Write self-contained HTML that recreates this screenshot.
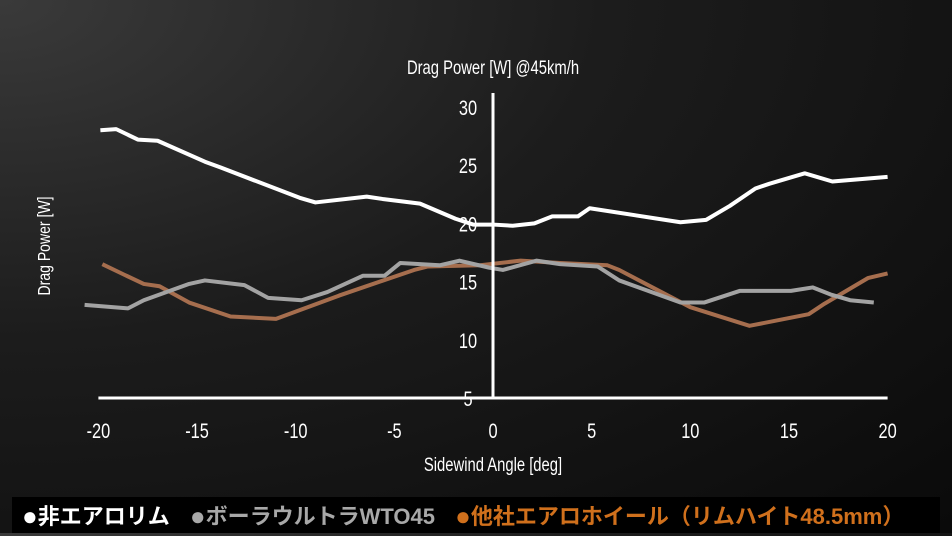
<!DOCTYPE html>
<html><head><meta charset="utf-8"><style>
html,body{margin:0;padding:0}
body{width:952px;height:533px;overflow:hidden;background:radial-gradient(ellipse at 0% 0%,#3a3a3a 0%,#1c1c1c 45%,#0a0a0a 100%);position:relative;font-family:"Liberation Sans",sans-serif}
svg{position:absolute;left:0;top:0}
#legend{position:absolute;left:12px;top:497px;width:928px;height:36px;background:#000;font-family:"Liberation Sans","Noto Sans CJK JP",sans-serif;font-weight:bold;font-size:22px;line-height:38px;white-space:nowrap;letter-spacing:0px}
#legend span{margin-right:14px}
#legend b{font-size:26px;vertical-align:-1px}
</style></head><body>
<svg id="chart" width="952" height="497"></svg>
<div id="legend">
<span style="color:#fff;padding-left:10px"><b>●</b>非エアロリム</span>
<span style="color:#a8a8a8"><b>●</b>ボーラウルトラWTO45</span>
<span style="color:#d0701c"><b>●</b>他社エアロホイール（リムハイト48.5mm）</span>
</div>
<script>
const xTicks=[-20,-15,-10,-5,0,5,10,15,20];
const yTicks=[5,10,15,20,25,30];
const whiteX=[-19.9,-19.1,-18,-17,-14.6,-13.8,-9.8,-9,-6.4,-5.6,-3.7,-1.9,-1,0,1,2.1,3,4.3,4.9,9.5,10.8,12,13.3,14,15.8,17.2,20];
const whiteY=[28,28.1,27.2,27.1,25.3,24.8,22.2,21.8,22.3,22.1,21.7,20.4,19.9,19.9,19.8,20,20.6,20.6,21.3,20.1,20.3,21.5,23,23.4,24.3,23.6,24];
const grayX=[-20.7,-18.5,-17.7,-15.4,-14.6,-12.6,-11.4,-9.7,-8.4,-6.6,-5.5,-4.7,-2.7,-1.7,-0.2,0.5,2.2,3.4,5.3,6.4,9.5,10.7,12.5,15.1,16.2,17.1,18.1,19.3];
const grayY=[13,12.7,13.4,14.8,15.1,14.7,13.6,13.4,14.1,15.5,15.5,16.6,16.4,16.8,16.2,16,16.8,16.5,16.3,15.1,13.2,13.2,14.2,14.2,14.5,13.9,13.4,13.2];
const orangeX=[-19.8,-18.7,-17.7,-16.9,-15.4,-13.3,-11,-7.8,-4,-3.3,-0.7,1.4,3.4,5.8,6.4,10,13,16,16.8,19,20];
const orangeY=[16.5,15.6,14.8,14.6,13.2,12,11.8,13.8,16,16.3,16.4,16.8,16.6,16.4,16,12.8,11.2,12.2,13.1,15.3,15.7];
const NS='http://www.w3.org/2000/svg';
const svg=document.getElementById('chart');
const sx=v=>493+v*19.73;
const sy=v=>398-(v-5)*11.64;
function mk(t,a){const e=document.createElementNS(NS,t);for(const k in a)e.setAttribute(k,a[k]);svg.appendChild(e);return e;}
function txt(s,x,y,size,rot){
 const e=mk('text',{x:0,y:0,fill:'#fff','font-size':size,'text-anchor':'middle',transform:'translate('+x+','+y+')'+(rot?' rotate(-90)':'')+' scale(0.78,1)'});
 e.textContent=s;return e;}
function line(xs,ys,color,name){
 const p=mk('polyline',{points:xs.map((x,i)=>sx(x)+','+sy(ys[i])).join(' '),fill:'none',stroke:color,'stroke-width':4,'stroke-linejoin':'round'});
 
 
}
line(orangeX,orangeY,'#a66e4e','series-other-aero');
line(grayX,grayY,'#a3a3a3','series-bora-wto45');
line(whiteX,whiteY,'#ffffff','series-non-aero');
const xa=mk('line',{x1:sx(-20),x2:sx(20),y1:398,y2:398,stroke:'#fff','stroke-width':3});


const ya=mk('line',{x1:sx(0),x2:sx(0),y1:93,y2:398,stroke:'#fff','stroke-width':3});


xTicks.forEach(t=>{const e=txt(String(t),sx(t),438,21,false);
 
 });
yTicks.forEach(t=>{const e=txt(String(t),468,sy(t)+8,21,false);
 
 });
const tt=txt('Drag Power [W] @45km/h',493,74,19,false);


const xt=txt('Sidewind Angle [deg]',493,471,19,false);


const yt=txt('Drag Power [W]',50,246,18,true);


</script>
</body></html>
